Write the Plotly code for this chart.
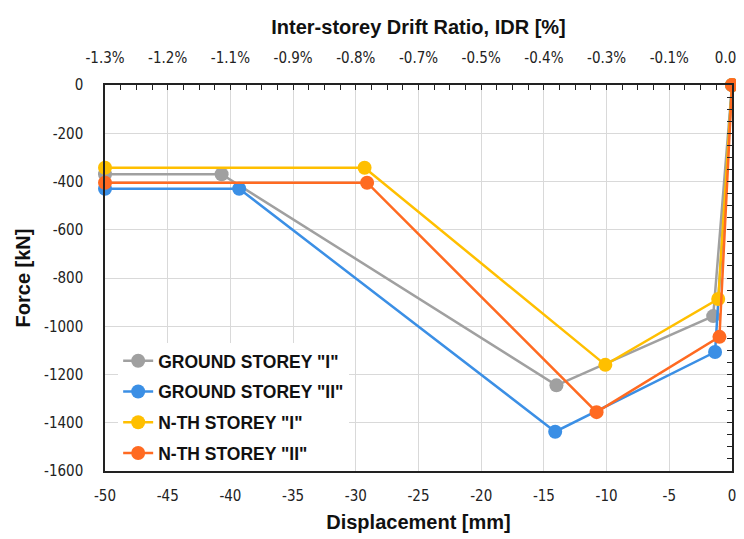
import plotly.graph_objects as go

# Data (displacement mm, force kN)
ground_I_x = [-50, -40.7, -14.0, -1.5, 0]
ground_I_y = [-370, -370, -1245, -958, 0]
ground_II_x = [-50, -39.3, -14.1, -1.35, 0]
ground_II_y = [-430, -430, -1437, -1107, 0]
nth_I_x = [-50, -29.3, -10.1, -1.1, 0]
nth_I_y = [-343, -343, -1160, -887, 0]
nth_II_x = [-50, -29.1, -10.8, -1.0, 0]
nth_II_y = [-405, -405, -1356, -1044, 0]

series_names = ['GROUND STOREY "I"', 'GROUND STOREY "II"', 'N-TH STOREY "I"', 'N-TH STOREY "II"']
series_colors = ["#A0A0A0", "#3B8FE5", "#FFBF00", "#FF6A21"]

x_ticks = [-50, -45, -40, -35, -30, -25, -20, -15, -10, -5, 0]
idr_labels = ["-1.3%", "-1.2%", "-1.1%", "-0.9%", "-0.8%", "-0.7%", "-0.5%", "-0.4%", "-0.3%", "-0.1%", "0.0%"]
y_ticks = [0, -200, -400, -600, -800, -1000, -1200, -1400, -1600]

narrow = "Liberation Sans Narrow, DejaVu Sans Condensed, Arial Narrow, Liberation Sans, sans-serif"
bold_font = "Liberation Sans Narrow, Arial Narrow, Liberation Sans, sans-serif"

fig = go.Figure()
all_x = [ground_I_x, ground_II_x, nth_I_x, nth_II_x]
all_y = [ground_I_y, ground_II_y, nth_I_y, nth_II_y]
for i, (xs, ys) in enumerate(zip(all_x, all_y)):
    fig.add_trace(go.Scatter(
        x=xs, y=ys, mode="lines+markers", name="<b>" + series_names[i] + "</b>",
        line=dict(color=series_colors[i], width=2.5),
        marker=dict(color=series_colors[i], size=14),
        cliponaxis=False, legendgroup=str(i),
    ))

# dummy trace for top axis
fig.add_trace(go.Scatter(x=[-50, 0], y=[None, None], xaxis="x2", yaxis="y2",
                         showlegend=False, hoverinfo="skip"))

tickfont = dict(family=narrow, size=15, color="#222")
titlefont = dict(family=bold_font, size=20, color="#111")

fig.update_layout(
    width=736, height=531,
    margin=dict(l=97, r=12, t=77, b=68, autoexpand=False),
    paper_bgcolor="white", plot_bgcolor="white",
    font=dict(family=narrow, size=15, color="#222"),
    xaxis=dict(
        range=[-50, 0], tickvals=x_ticks, ticktext=[str(v) for v in x_ticks],
        showgrid=True, gridcolor="#D9D9D9", gridwidth=1.2,
        showline=True, linecolor="#222", linewidth=1.5, ticks="",
        zeroline=False, automargin=False, ticklabelstandoff=10,
        ticklabeloverflow="allow",
        title=dict(text="<b>Displacement [mm]</b>", font=titlefont, standoff=11),
        tickfont=tickfont,
    ),
    xaxis2=dict(
        range=[-50, 0], overlaying="x", side="top", anchor="y",
        tickvals=x_ticks, ticktext=idr_labels,
        showgrid=False, showline=True, linecolor="#222", linewidth=1.5,
        ticks="inside", ticklen=5, tickcolor="#222",
        minor=dict(dtick=1.25, tick0=0, ticks="inside", ticklen=5, tickcolor="#222", showgrid=False),
        zeroline=False, automargin=False, ticklabelstandoff=14,
        ticklabeloverflow="allow",
        title=dict(text="<b>Inter-storey Drift Ratio, IDR [%]</b>", font=titlefont, standoff=9),
        tickfont=tickfont,
    ),
    yaxis=dict(
        range=[-1600, 0], tickvals=y_ticks, ticktext=[str(v) for v in y_ticks],
        showgrid=True, gridcolor="#D9D9D9", gridwidth=1.2,
        showline=True, linecolor="#222", linewidth=1.5, ticks="",
        zeroline=False, automargin=False, ticklabelstandoff=17,
        ticklabeloverflow="allow",
        title=dict(text="<b>Force [kN]</b>", font=titlefont, standoff=8),
        tickfont=tickfont,
    ),
    yaxis2=dict(
        range=[-1600, 0], overlaying="y", side="right", anchor="x",
        tickvals=y_ticks, showticklabels=False, showgrid=False,
        showline=True, linecolor="#222", linewidth=1.5,
        ticks="inside", ticklen=5, tickcolor="#222",
        minor=dict(dtick=50, ticks="inside", ticklen=5, tickcolor="#222", showgrid=False),
        zeroline=False, automargin=False,
    ),
    legend=dict(
        x=0.021, y=0.332, xanchor="left", yanchor="top",
        bgcolor="white", borderwidth=0,
        font=dict(family="Liberation Sans, Arial, sans-serif", size=17.5, color="#111"),
        traceorder="grouped", tracegroupgap=5, itemwidth=30,
    ),
    showlegend=True,
)

fig.write_html("out.html")
